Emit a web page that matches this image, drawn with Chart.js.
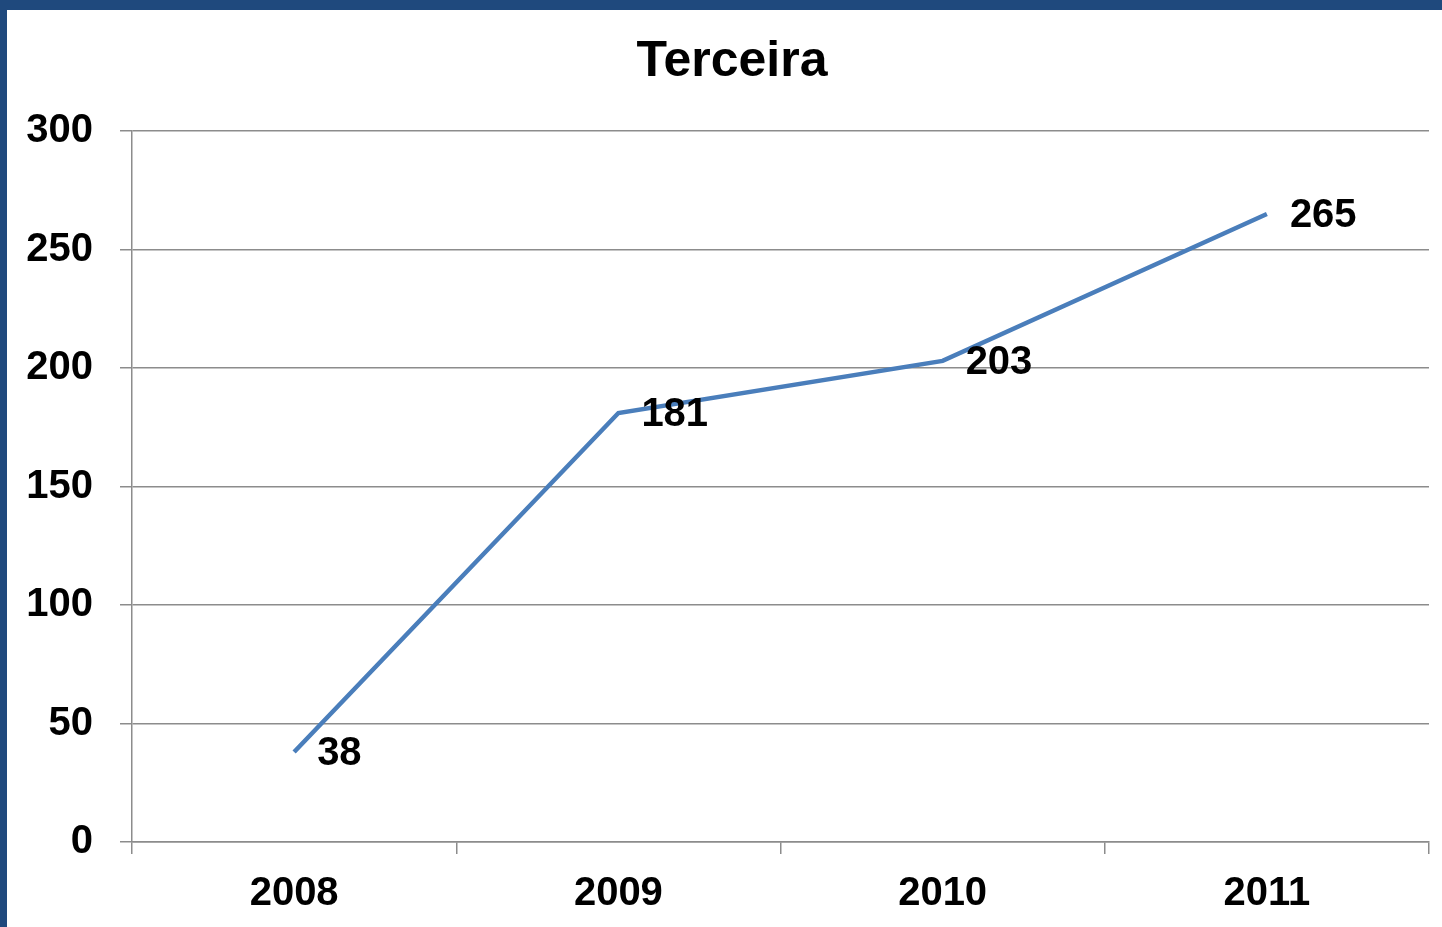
<!DOCTYPE html>
<html>
<head>
<meta charset="utf-8">
<script src="https://cdn.jsdelivr.net/npm/chart.js@4/dist/chart.umd.min.js"></script>
<style>
  html, body { margin: 0; padding: 0; background: #fff; }
  #frame {
    width: 1435px; height: 917px;
    border-top: 10px solid #1F497D;
    border-left: 7px solid #1F497D;
    background: #fff;
  }
  canvas { display: block; }
</style>
</head>
<body>
<div id="frame"><canvas id="chart" width="1435" height="917"></canvas></div>
<script>
const years = ['2008', '2009', '2010', '2011'];
const values = [38, 181, 203, 265];
const yTicks = [0, 50, 100, 150, 200, 250, 300];

const FONT = '"Liberation Sans", Arial, Helvetica, sans-serif';
const gridColor = '#8c8c8c';

// draw value labels to the right of each point
const pointLabels = {
  id: 'pointLabels',
  afterLayout(chart) {
    // title sits a bit right of the canvas centre in the original
    if (chart.titleBlock) {
      chart.titleBlock.left += 14;
      chart.titleBlock.right += 14;
    }
  },
  afterDatasetsDraw(chart) {
    const ctx = chart.ctx;
    const meta = chart.getDatasetMeta(0);
    ctx.save();
    ctx.font = 'bold 40px ' + FONT;
    ctx.fillStyle = '#000';
    ctx.textAlign = 'left';
    ctx.textBaseline = 'middle';
    meta.data.forEach((pt, i) => {
      ctx.fillText(String(values[i]), pt.x + 23, pt.y + 2);
    });
    ctx.restore();
  }
};

new Chart('chart', {
  type: 'line',
  data: {
    labels: years,
    datasets: [{
      data: values,
      borderColor: '#4A7EBB',
      borderWidth: 4.5,
      pointRadius: 0,
      tension: 0,
      fill: false
    }]
  },
  options: {
    responsive: false,
    animation: false,
    layout: { padding: { left: 0, right: 13, top: 0, bottom: 0 } },
    plugins: {
      legend: { display: false },
      tooltip: { enabled: false },
      title: {
        display: true,
        text: 'Terceira',
        color: '#000',
        font: { family: FONT, size: 50, weight: 'bold' },
        padding: { top: 22, bottom: 39 }
      }
    },
    scales: {
      x: {
        offset: true,
        grid: {
          offset: true,
          drawOnChartArea: false,
          drawTicks: true,
          tickLength: 12,
          color: gridColor,
          lineWidth: 1.5
        },
        border: { display: true, color: gridColor, width: 1.5 },
        ticks: {
          color: '#000',
          font: { family: FONT, size: 40, weight: 'bold' },
          padding: 16,
          maxRotation: 0
        },
        afterFit(scale) { scale.height = 85; }
      },
      y: {
        min: 0,
        max: 300,
        afterBuildTicks(scale) { scale.ticks = yTicks.map(v => ({ value: v })); },
        grid: {
          drawTicks: true,
          tickLength: 12,
          color: gridColor,
          lineWidth: 1.5
        },
        border: { display: true, color: gridColor, width: 1.5 },
        ticks: {
          color: '#000',
          font: { family: FONT, size: 40, weight: 'bold' },
          padding: 27
        },
        afterFit(scale) { scale.width = 125; }
      }
    }
  },
  plugins: [pointLabels]
});
</script>
</body>
</html>
